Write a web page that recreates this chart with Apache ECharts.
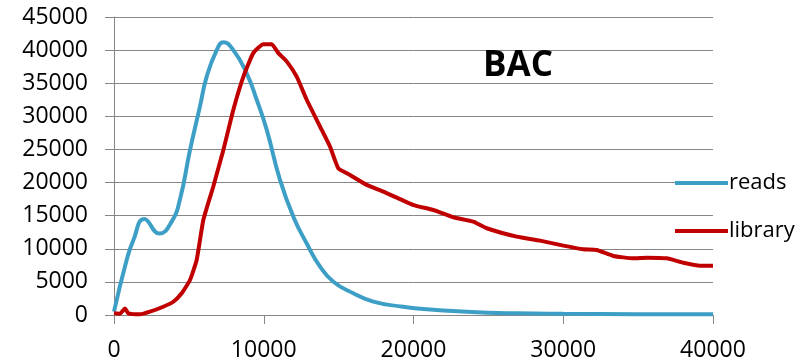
<!DOCTYPE html>
<html>
<head>
<meta charset="utf-8">
<script src="https://cdn.jsdelivr.net/npm/echarts@6/dist/echarts.min.js"></script>
<style>
  html, body { margin: 0; padding: 0; background: #fff; }
  #chart { width: 812px; height: 364px; }
</style>
</head>
<body>
<div id="chart"></div>
<script>
// reads (blue)
const readsX = [0, 845, 1290, 2025, 3030, 3850, 4400, 5075, 5740, 6190, 6860, 7300, 7970, 8860, 9530, 10200, 11085, 11975, 12870, 13760, 14650, 15980, 17320, 19100, 20430, 23550, 26890, 30000, 35000, 40000];
const readsY = [500, 8300, 11300, 14500, 12300, 14100, 17400, 24900, 31500, 36000, 40000, 41200, 40000, 36500, 32500, 27950, 20400, 14850, 10800, 7300, 5030, 3280, 2010, 1300, 950, 500, 250, 170, 130, 100];

// library (red)
const libraryX = [0, 400, 735, 955, 1740, 2400, 3290, 3960, 4520, 5075, 5520, 5965, 6630, 7300, 7970, 8640, 9300, 9970, 10530, 10975, 11530, 12200, 12870, 13760, 14430, 14980, 15760, 16875, 17985, 19100, 20000, 21330, 22660, 23990, 24890, 26890, 28450, 30010, 31340, 32230, 33340, 34680, 35570, 36910, 38020, 39130, 40000];
const libraryY = [250, 200, 1000, 250, 100, 500, 1250, 2000, 3280, 5290, 8300, 14350, 19400, 24900, 31000, 36000, 39550, 40900, 40900, 39550, 38300, 36000, 32500, 28450, 25400, 22150, 21150, 19650, 18640, 17500, 16600, 15860, 14760, 14100, 13100, 11830, 11230, 10480, 9930, 9820, 8920, 8560, 8660, 8560, 7900, 7450, 7450];

const yTicks = [0, 45000, 5000];  // min, max, step
const xTicks = [0, 40000, 10000];

const font = "'Open Sans', 'Noto Sans', sans-serif";
const axisGray = "#868686";

const pairs = (xs, ys) => xs.map((x, i) => [x, ys[i]]);

const options = {
  animation: false,
  textStyle: { fontFamily: font },
  title: {
    text: "BAC",
    left: 478,
    top: 44,
    textStyle: { fontSize: 35, fontWeight: "bold", color: "#000", fontFamily: font },
  },
  grid: {
    left: 114,
    right: 99,
    top: 17,
    bottom: 49,
  },
  legend: {
    orient: "vertical",
    left: 670,
    top: 167,
    icon: "rect",
    itemWidth: 53,
    itemHeight: 4,
    itemGap: 26,
    data: ["reads", "library"],
    textStyle: { fontSize: 22, lineHeight: 22, color: "#000", fontFamily: font, padding: [0, 0, 0, -4] },
  },
  xAxis: {
    type: "value",
    min: xTicks[0],
    max: xTicks[1],
    interval: xTicks[2],
    axisLine: { show: true, lineStyle: { color: axisGray, width: 1 } },
    axisTick: { show: true, length: 9, lineStyle: { color: axisGray } },
    splitLine: { show: false },
    axisLabel: { color: "#000", fontSize: 23, margin: 24, fontFamily: font, formatter: (v) => String(v) },
  },
  yAxis: {
    type: "value",
    min: yTicks[0],
    max: yTicks[1],
    interval: yTicks[2],
    axisLine: { show: true, lineStyle: { color: axisGray, width: 1 } },
    axisTick: { show: true, length: 9, lineStyle: { color: axisGray } },
    splitLine: { show: true, lineStyle: { color: axisGray, width: 1 } },
    axisLabel: { color: "#000", fontSize: 23, margin: 26, fontFamily: font, formatter: (v) => String(v) },
  },
  series: [
    {
      name: "reads",
      type: "line",
      smooth: 0.5,
      symbol: "none",
      data: pairs(readsX, readsY),
      itemStyle: { color: "#3E9FC6" },
      lineStyle: { color: "#3E9FC6", width: 4 },
    },
    {
      name: "library",
      type: "line",
      smooth: 0.15,
      symbol: "none",
      data: pairs(libraryX, libraryY),
      itemStyle: { color: "#C00000" },
      lineStyle: { color: "#C00000", width: 4 },
    },
  ],
};

const chart = echarts.init(document.getElementById("chart"));
chart.setOption(options);
</script>
</body>
</html>
